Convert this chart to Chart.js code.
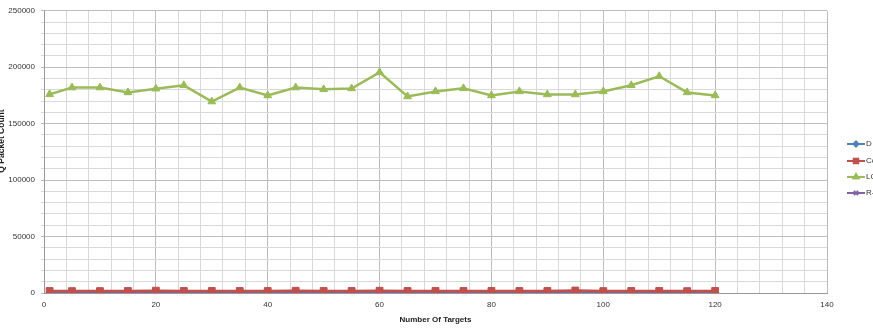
<!DOCTYPE html>
<html><head><meta charset="utf-8">
<script src="https://cdn.jsdelivr.net/npm/chart.js@4.4.1/dist/chart.umd.min.js"></script>
<style>html,body{margin:0;padding:0;background:#fff;}#wrap{width:873px;height:328px;}</style>
</head><body><div id="wrap"><canvas id="c" width="873" height="328"></canvas></div>
<script>
const targets = [1,5,10,15,20,25,30,35,40,45,50,55,60,65,70,75,80,85,90,95,100,105,110,115,120];
const seriesD  = [700,700,700,700,700,700,700,700,700,700,700,700,700,700,700,700,700,700,700,700,700,700,700,700,700];
const seriesCo = [1800,1700,1700,1800,2100,1800,1800,1800,1800,2000,1800,1800,2000,1800,1800,1800,1800,1800,1800,2200,1700,1800,1800,1700,1800];
const seriesLC = [176000,182000,182000,177700,181000,184000,169600,182000,175000,182000,180400,181200,195500,174100,178600,181300,175000,178600,175900,175900,178600,184000,192000,177700,175000];
const seriesR  = [1200,1200,1200,1200,1300,1200,1200,1200,1200,1300,1200,1200,1300,1200,1200,1200,1200,1200,1200,1300,1200,1200,1200,1200,1200];
const seriesNames = ["D","Co","LC","R-"];
const xTickLabels = [0,20,40,60,80,100,120,140];
const yTickLabels = [0,50000,100000,150000,200000,250000];
const xTitle = "Number Of Targets";
const yTitle = "Q Packet Count";

const colors = ["#4F81BD","#C0504D","#9BBB59","#8064A2"];
const styles = ["rectRot","rect","triangle","crossRot"];
const radii = [3.5,4.8,4.5,4];
const legendRadii = [2.5,3.2,3,3];
const allSeries = [seriesD, seriesCo, seriesLC, seriesR];
const FONT = '"Liberation Sans", Arial, sans-serif';
const datasets = allSeries.map((s,i)=>({
  label: seriesNames[i],
  data: targets.map((t,j)=>({x:t,y:s[j]})),
  borderColor: colors[i],
  backgroundColor: colors[i],
  pointStyle: styles[i],
  pointRadius: radii[i],
  pointBorderWidth: i===3?1.5:1,
  borderWidth: 2.5,
  tension: 0,
  order: [3,1,0,2][i]
}));

const extrasPlugin = {
  id:'extras',
  afterDraw(chart){
    const ctx = chart.ctx;
    const x0 = 847, len = 18, ys=[144,161,177,193];
    ctx.save();
    chart.data.datasets.forEach((ds,i)=>{
      const y = ys[i];
      ctx.strokeStyle = ds.borderColor; ctx.lineWidth = 2;
      ctx.beginPath(); ctx.moveTo(x0,y); ctx.lineTo(x0+len,y); ctx.stroke();
      ctx.fillStyle = ds.backgroundColor; ctx.strokeStyle = ds.borderColor;
      Chart.helpers.drawPoint(ctx,{pointStyle:ds.pointStyle,radius:legendRadii[i],borderWidth:1},x0+len/2,y);
      ctx.fillStyle='#333'; ctx.font='8px '+FONT;
      ctx.textBaseline='middle'; ctx.textAlign='left';
      ctx.fillText(ds.label,x0+len+1,y);
    });
    ctx.translate(2,141);
    ctx.rotate(-Math.PI/2);
    ctx.fillStyle='#222'; ctx.font='bold 8.5px '+FONT;
    ctx.textAlign='center'; ctx.textBaseline='middle';
    ctx.fillText(yTitle,0,0);
    ctx.restore();
  }
};

new Chart(document.getElementById('c'),{
  type:'line',
  data:{datasets},
  plugins:[extrasPlugin],
  options:{
    responsive:false, animation:false,
    layout:{padding:{top:8,right:46,left:0,bottom:0}},
    plugins:{legend:{display:false},tooltip:{enabled:false}},
    scales:{
      x:{type:'linear',min:0,max:140,
        ticks:{stepSize:4,autoSkip:false,color:'#333',font:{size:8,family:FONT},padding:7,maxRotation:0,
          callback:(v)=> xTickLabels.includes(v)? String(v):''},
        afterBuildTicks:(sc)=>{const t=[];for(let v=0;v<=140;v+=4)t.push({value:v});xTickLabels.forEach(v=>{if(v%4!==0)t.push({value:v});});t.sort((a,b)=>a.value-b.value);sc.ticks=t;},
        grid:{color:(c)=> (c.tick && c.tick.value%20===0)?'#bdbdbd':'#d9d9d9', lineWidth:1, drawTicks:false},
        border:{color:'#999'},
        title:{display:true,text:xTitle,color:'#222',font:{size:8,weight:'bold',family:FONT},padding:{top:2,bottom:3}},
        afterFit:(sc)=>{sc.height=35;}
      },
      y:{min:0,max:250000,
        ticks:{stepSize:10000,autoSkip:false,color:'#333',font:{size:8,family:FONT},padding:6,
          callback:(v)=> yTickLabels.includes(v)? String(v):''},
        grid:{color:(c)=> (c.tick && c.tick.value%50000===0)?'#bdbdbd':'#d9d9d9', lineWidth:1, drawTicks:true, tickLength:3},
        border:{color:'#999'},
        afterFit:(sc)=>{sc.width=44;}
      }
    }
  }
});
</script></body></html>
